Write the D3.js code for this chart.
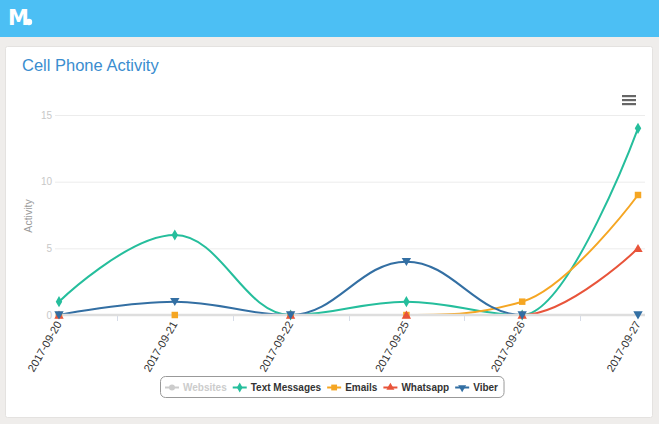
<!DOCTYPE html>
<html><head><meta charset="utf-8">
<script src="https://cdn.jsdelivr.net/npm/d3@7/dist/d3.min.js"></script>
<style>
html,body{margin:0;padding:0;background:#efedeb;}
svg{display:block;font-family:"Liberation Sans",Arial,Helvetica,sans-serif;}
</style></head>
<body>
<script>
const categories = ["2017-09-20","2017-09-21","2017-09-22","2017-09-25","2017-09-26","2017-09-27"];
const websites = [null,null,null,null,null,null];
const textMessages = [1,6,0,1,0,14];
const emails = [0,0,0,0,1,9];
const whatsapp = [0,null,0,0,0,5];
const viber = [0,1,0,4,0,0];
const yTicks = [0,5,10,15];
const seriesNames = ["Websites","Text Messages","Emails","Whatsapp","Viber"];

const series = [
  {name:seriesNames[0], data:websites, color:"#cccccc", symbol:"circle", visible:false},
  {name:seriesNames[1], data:textMessages, color:"#25be9c", symbol:"diamond", visible:true},
  {name:seriesNames[2], data:emails, color:"#f5a623", symbol:"square", visible:true},
  {name:seriesNames[3], data:whatsapp, color:"#e8543a", symbol:"triangle", visible:true},
  {name:seriesNames[4], data:viber, color:"#336fa3", symbol:"triangle-down", visible:true}
];

const W=659,H=424;
const svg=d3.select("body").append("svg").attr("width",W).attr("height",H);

svg.append("rect").attr("x",0).attr("y",0).attr("width",W).attr("height",H).attr("fill","#efedeb");
svg.append("rect").attr("x",0).attr("y",0).attr("width",W).attr("height",37).attr("fill","#4cbff4");
const logo=svg.append("g").attr("fill","#fff");
logo.append("text").attr("x",8).attr("y",25).attr("font-size",21).attr("font-weight","bold").attr("font-family","'DejaVu Sans',sans-serif").text("M");
logo.append("circle").attr("cx",29).attr("cy",22).attr("r",3.2);
svg.append("rect").attr("x",5.5).attr("y",46.5).attr("width",647).attr("height",371).attr("rx",2).attr("fill","#fff").attr("stroke","#e4e2e0");
svg.append("text").attr("x",22).attr("y",71).attr("font-size",16.5).attr("fill","#3a8dcf").text("Cell Phone Activity");

const hb=svg.append("g").attr("fill","#666");
[95,99,103].forEach(y=>hb.append("rect").attr("x",622).attr("y",y).attr("width",14).attr("height",2.2));

const x=d3.scalePoint().domain(categories).range([59,638]);
const y=d3.scaleLinear().domain([0,15]).range([315,115]);
const plotL=55, plotR=645;

svg.append("g").selectAll("line").data(yTicks.filter(d=>d>0)).join("line")
  .attr("x1",plotL).attr("x2",plotR).attr("y1",d=>y(d)+0.5).attr("y2",d=>y(d)+0.5)
  .attr("stroke","#ececec").attr("stroke-width",1);
svg.append("g").selectAll("text").data(yTicks).join("text")
  .attr("x",52).attr("y",d=>y(d)+3.5).attr("text-anchor","end")
  .attr("font-size",10).attr("fill","#c8c8c8").text(d=>d);
svg.append("text").attr("transform","translate(32,"+(y(7.5)+1)+") rotate(-90)")
  .attr("text-anchor","middle").attr("font-size",10.5).attr("fill","#9a9a9a").text("Activity");

const step=x.step();
const tickPos=categories.slice(0,-1).map((c,i)=>x(c)+step/2);
svg.append("g").selectAll("line").data(tickPos).join("line")
  .attr("x1",d=>Math.round(d)+0.5).attr("x2",d=>Math.round(d)+0.5).attr("y1",315).attr("y2",321)
  .attr("stroke","#d6dce8");

svg.append("g").selectAll("text").data(categories).join("text")
  .attr("transform",d=>"translate("+(x(d)+3)+",324) rotate(-60)")
  .attr("text-anchor","end").attr("font-size",11).attr("fill","#333").text(d=>d);

function splinePath(pts){
  const p=d3.path();
  const sm=1.5, den=sm+1;
  const cps=pts.map((pt,i)=>{
    const last=pts[i-1], next=pts[i+1];
    if(!last||!next) return null;
    let lcx=(sm*pt[0]+last[0])/den, lcy=(sm*pt[1]+last[1])/den;
    let rcx=(sm*pt[0]+next[0])/den, rcy=(sm*pt[1]+next[1])/den;
    if(rcx!==lcx){
      const corr=((rcy-lcy)*(rcx-pt[0]))/(rcx-lcx)+pt[1]-rcy;
      lcy+=corr; rcy+=corr;
    }
    if(lcy>last[1]&&lcy>pt[1]){lcy=Math.max(last[1],pt[1]);rcy=2*pt[1]-lcy;}
    else if(lcy<last[1]&&lcy<pt[1]){lcy=Math.min(last[1],pt[1]);rcy=2*pt[1]-lcy;}
    if(rcy>next[1]&&rcy>pt[1]){rcy=Math.max(next[1],pt[1]);lcy=2*pt[1]-rcy;}
    else if(rcy<next[1]&&rcy<pt[1]){rcy=Math.min(next[1],pt[1]);lcy=2*pt[1]-rcy;}
    return {lcx,lcy,rcx,rcy};
  });
  pts.forEach((pt,i)=>{
    if(i===0){p.moveTo(pt[0],pt[1]);return;}
    const a=cps[i-1], b=cps[i], last=pts[i-1];
    p.bezierCurveTo(a?a.rcx:last[0], a?a.rcy:last[1], b?b.lcx:pt[0], b?b.lcy:pt[1], pt[0], pt[1]);
  });
  return p.toString();
}
function segments(data){
  const segs=[];let cur=[];
  data.forEach((v,i)=>{
    if(v===null){if(cur.length)segs.push(cur);cur=[];}
    else cur.push([x(categories[i]),y(v)]);
  });
  if(cur.length)segs.push(cur);
  return segs;
}
const symMap={"circle":d3.symbolCircle,"diamond":d3.symbolDiamond,"square":d3.symbolSquare,"triangle":d3.symbolTriangle,"triangle-down":d3.symbolTriangle};

const linesG=svg.append("g");
series.filter(s=>s.visible).forEach(s=>{
  segments(s.data).forEach(seg=>{
    linesG.append("path").attr("d",splinePath(seg)).attr("fill","none")
      .attr("stroke",s.color).attr("stroke-width",2);
  });
});
svg.append("line").attr("x1",plotL).attr("x2",plotR).attr("y1",y(0)).attr("y2",y(0))
  .attr("stroke","#dedede").attr("stroke-width",2.6);

const markG=svg.append("g");
series.filter(s=>s.visible).forEach(s=>{
  const pts=s.data.map((v,i)=>v===null?null:[x(categories[i]),y(v)]).filter(p=>p);
  const size=s.symbol==="square"?42:(s.symbol==="diamond"?36:38);
  const gen=d3.symbol().type(symMap[s.symbol]).size(size);
  markG.selectAll(null).data(pts).join("path").attr("d",gen()).attr("fill",s.color)
    .attr("transform",d=>"translate("+d[0]+","+(d[1]+(s.symbol==="triangle"?1:(s.symbol==="triangle-down"?-1:0)))+")"+(s.symbol==="triangle-down"?" rotate(180)":""));
});

const lg=svg.append("g");
const box=lg.append("rect").attr("x",160.5).attr("y",376.5).attr("width",336).attr("height",21).attr("rx",5)
  .attr("fill","#fff").attr("stroke","#999");
let lx=165;
series.forEach(s=>{
  const col=s.visible?s.color:"#cccccc";
  lg.append("line").attr("x1",lx).attr("x2",lx+14).attr("y1",387.5).attr("y2",387.5).attr("stroke",col).attr("stroke-width",2);
  const gen=d3.symbol().type(symMap[s.symbol]).size(s.symbol==="square"?34:28);
  lg.append("path").attr("d",gen()).attr("fill",col)
    .attr("transform","translate("+(lx+7)+",387.5)"+(s.symbol==="triangle-down"?" rotate(180)":""));
  const t=lg.append("text").attr("x",lx+18).attr("y",391).attr("font-size",10).attr("font-weight","bold")
    .attr("fill",s.visible?"#333":"#cccccc").text(s.name);
  lx+=18+t.node().getComputedTextLength()+6;
});
box.attr("width",lx-160.5);
</script>
</body></html>
